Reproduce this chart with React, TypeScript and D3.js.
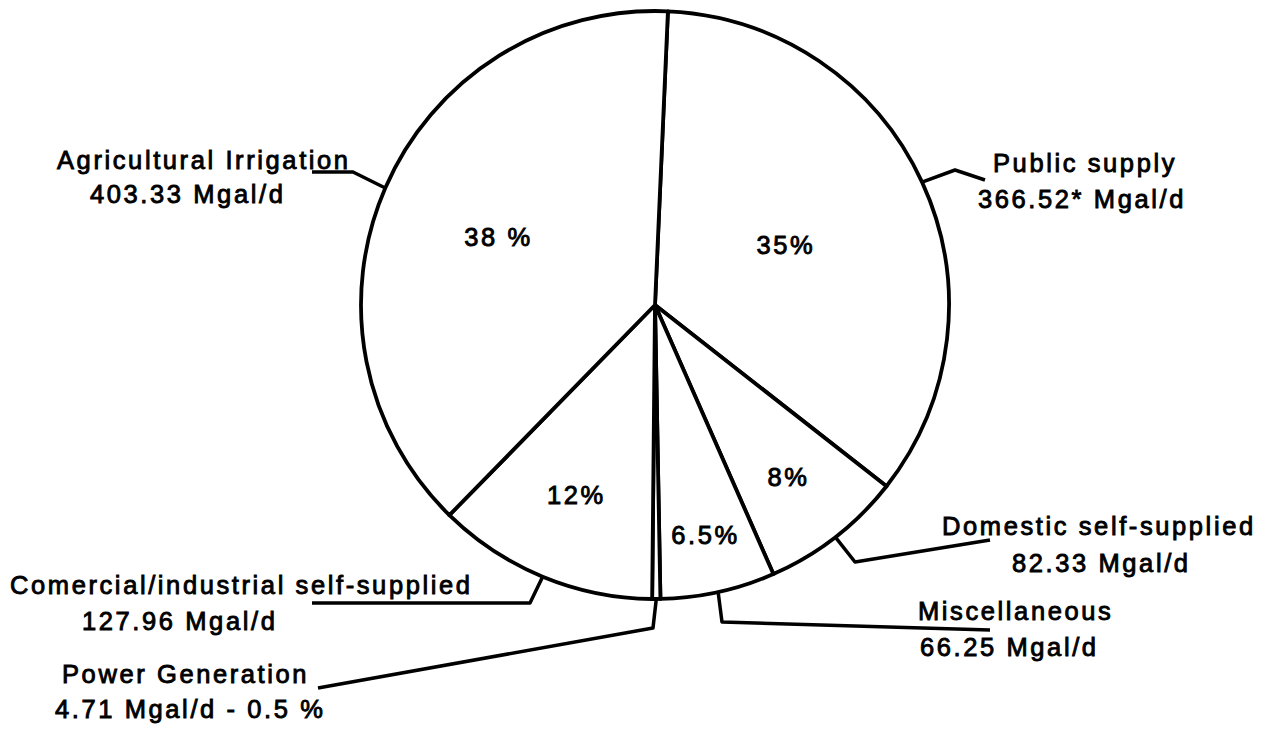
import React from "react";
import * as d3 from "d3";

// ---- data ----
const categories = [
  "Public supply",
  "Domestic self-supplied",
  "Miscellaneous",
  "Power Generation",
  "Comercial/industrial self-supplied",
  "Agricultural Irrigation",
];
const values = [366.52, 82.33, 66.25, 4.71, 127.96, 403.33];
const valueLabels = [
  "366.52* Mgal/d",
  "82.33 Mgal/d",
  "66.25 Mgal/d",
  "4.71 Mgal/d - 0.5 %",
  "127.96 Mgal/d",
  "403.33 Mgal/d",
];
const percentLabels = ["35%", "8%", "6.5%", "", "12%", "38 %"];

// ---- layout (positions / styles only) ----
const W = 1278;
const H = 738;
const CX = 655;
const CY = 305;
const R = 294;
const START = 0.044; // radians, slight clockwise rotation of first boundary
const pctRadius = [0.49, 0.74, 0.8, 0, 0.7, 0.58];
// leader polylines after the point on the circle: [elbow, end]
const leaders: [number, number][][] = [
  [[955, 170], [985, 180]],
  [[855, 562], [990, 540]],
  [[722, 622], [990, 630]],
  [[653, 628], [318, 688]],
  [[530, 603], [312, 603]],
  [[353, 172], [312, 172]],
];
// label anchor: [x, y of name baseline, x of value line, y of value baseline]
const labelPos: [number, number, number, number][] = [
  [993, 172, 978, 208],
  [942, 535, 1012, 572],
  [918, 620, 920, 656],
  [62, 683, 55, 718],
  [10, 594, 82, 630],
  [57, 169, 90, 203],
];

const FONT = "'Liberation Sans', Arial, Helvetica, sans-serif";

export default function App() {
  const pie = d3
    .pie<number>()
    .sort(null)
    .value((d) => d)
    .startAngle(START)
    .endAngle(START + 2 * Math.PI);
  const arcs = pie(values);
  const arc = d3.arc<d3.PieArcDatum<number>>().innerRadius(0).outerRadius(R);

  const polar = (angle: number, r: number): [number, number] => [
    CX + r * Math.sin(angle),
    CY - r * Math.cos(angle),
  ];
  const line = d3.line();

  const textStyle = {
    fontFamily: FONT,
    fontSize: 25.5,
    letterSpacing: 2.6,
    fill: "#000",
    stroke: "#000",
    strokeWidth: 0.9,
  } as React.CSSProperties;

  return (
    <svg
      width={W}
      height={H}
      style={{ position: "absolute", left: 0, top: 0, background: "#fff" }}
    >
      <rect width={W} height={H} fill="#fff" />
      <g transform={`translate(${CX},${CY})`}>
        {arcs.map((a, i) => (
          <path
            key={i}
            d={arc(a) || ""}
            fill="#fff"
            stroke="#000"
            strokeWidth={3.8}
            strokeLinejoin="round"
          />
        ))}
      </g>
      {/* percent labels */}
      {arcs.map((a, i) => {
        if (!percentLabels[i]) return null;
        const mid = (a.startAngle + a.endAngle) / 2;
        const [x, y] = polar(mid, R * pctRadius[i]);
        return (
          <text
            key={"p" + i}
            x={x}
            y={y}
            textAnchor="middle"
            dominantBaseline="central"
            style={textStyle}
          >
            {percentLabels[i]}
          </text>
        );
      })}
      {/* leaders */}
      {arcs.map((a, i) => {
        const mid = (a.startAngle + a.endAngle) / 2;
        const p0 = polar(mid, R);
        const pts: [number, number][] = [p0, ...leaders[i]];
        return (
          <path
            key={"l" + i}
            d={line(pts) || ""}
            fill="none"
            stroke="#000"
            strokeWidth={3.5}
            strokeLinejoin="round"
          />
        );
      })}
      {/* outer labels */}
      {categories.map((c, i) => {
        const [nx, ny, vx, vy] = labelPos[i];
        return (
          <g key={"t" + i}>
            <text x={nx} y={ny} style={textStyle}>
              {c}
            </text>
            <text x={vx} y={vy} style={textStyle}>
              {valueLabels[i]}
            </text>
          </g>
        );
      })}
    </svg>
  );
}
